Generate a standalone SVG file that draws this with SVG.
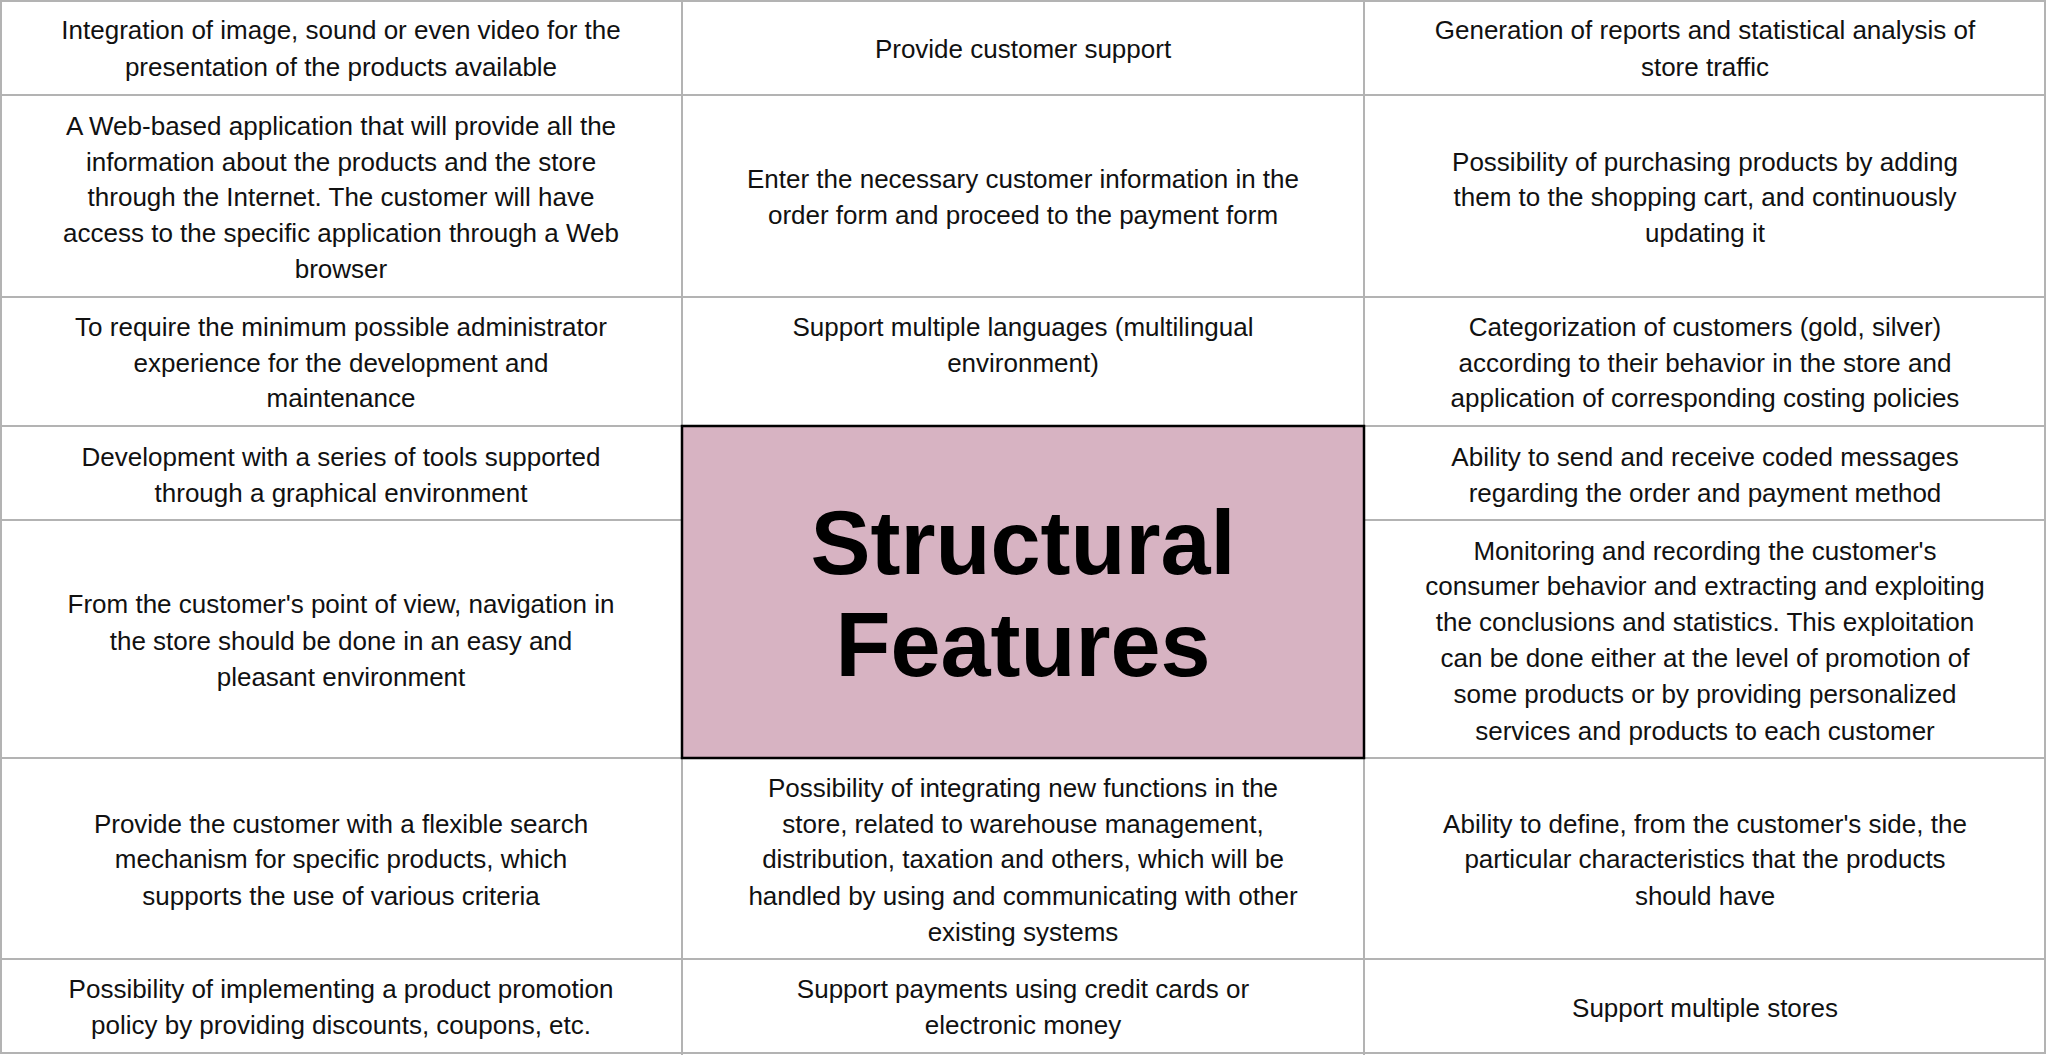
<svg xmlns="http://www.w3.org/2000/svg" width="2048" height="1055" viewBox="0 0 2048 1055">
<style>
.g{stroke:#b3b3b3;stroke-width:2;fill:none}
text{font-family:"Liberation Sans",Arial,sans-serif;font-size:26px;fill:#111;text-anchor:middle;dominant-baseline:central}
.t{font-size:90px;font-weight:bold;fill:#000}
</style>
<rect width="2048" height="1055" fill="#fff"/>
<g id="grid">
<rect class="g" x="1" y="1" width="2044" height="1052"/>
<line class="g" x1="682" y1="0" x2="682" y2="1055"/>
<line class="g" x1="1364" y1="0" x2="1364" y2="1055"/>
<line class="g" x1="0" y1="95" x2="2046" y2="95"/>
<line class="g" x1="0" y1="297" x2="2046" y2="297"/>
<line class="g" x1="0" y1="426" x2="2046" y2="426"/>
<line class="g" x1="0" y1="520" x2="682" y2="520"/>
<line class="g" x1="1364" y1="520" x2="2046" y2="520"/>
<line class="g" x1="0" y1="758" x2="2046" y2="758"/>
<line class="g" x1="0" y1="959" x2="2046" y2="959"/>
</g>
<g id="center">
<rect x="682" y="426" width="682" height="332" fill="#d7b3c2" stroke="#000" stroke-width="2.5"/>
<text class="t" x="1023" y="543">Structural</text>
<text class="t" x="1023" y="645">Features</text>
</g>
<g id="c1r1"><text x="341" y="30">Integration of image, sound or even video for the</text><text x="341" y="67">presentation of the products available</text></g>
<g id="c1r2"><text x="341" y="126">A Web-based application that will provide all the</text><text x="341" y="162">information about the products and the store</text><text x="341" y="197">through the Internet. The customer will have</text><text x="341" y="233">access to the specific application through a Web</text><text x="341" y="269">browser</text></g>
<g id="c1r3"><text x="341" y="327">To require the minimum possible administrator</text><text x="341" y="363">experience for the development and</text><text x="341" y="398">maintenance</text></g>
<g id="c1r4"><text x="341" y="457">Development with a series of tools supported</text><text x="341" y="493">through a graphical environment</text></g>
<g id="c1r5"><text x="341" y="604">From the customer's point of view, navigation in</text><text x="341" y="641">the store should be done in an easy and</text><text x="341" y="677">pleasant environment</text></g>
<g id="c1r6"><text x="341" y="824">Provide the customer with a flexible search</text><text x="341" y="859">mechanism for specific products, which</text><text x="341" y="896">supports the use of various criteria</text></g>
<g id="c1r7"><text x="341" y="989">Possibility of implementing a product promotion</text><text x="341" y="1025">policy by providing discounts, coupons, etc.</text></g>
<g id="c2r1"><text x="1023" y="49">Provide customer support</text></g>
<g id="c2r2"><text x="1023" y="179">Enter the necessary customer information in the</text><text x="1023" y="215">order form and proceed to the payment form</text></g>
<g id="c2r3"><text x="1023" y="327">Support multiple languages  (multilingual</text><text x="1023" y="363">environment)</text></g>
<g id="c2r6"><text x="1023" y="788">Possibility of integrating new functions in the</text><text x="1023" y="824">store, related to warehouse management,</text><text x="1023" y="859">distribution, taxation and others, which will be</text><text x="1023" y="896">handled by using and communicating with other</text><text x="1023" y="932">existing systems</text></g>
<g id="c2r7"><text x="1023" y="989">Support payments using credit cards or</text><text x="1023" y="1025">electronic money</text></g>
<g id="c3r1"><text x="1705" y="30">Generation of reports and statistical analysis of</text><text x="1705" y="67">store traffic</text></g>
<g id="c3r2"><text x="1705" y="162">Possibility of purchasing products by adding</text><text x="1705" y="197">them to the shopping cart, and continuously</text><text x="1705" y="233">updating it</text></g>
<g id="c3r3"><text x="1705" y="327">Categorization of customers (gold, silver)</text><text x="1705" y="363">according to their behavior in the store and</text><text x="1705" y="398">application of corresponding costing policies</text></g>
<g id="c3r4"><text x="1705" y="457">Ability to send and receive coded messages</text><text x="1705" y="493">regarding the order and payment method</text></g>
<g id="c3r5"><text x="1705" y="551">Monitoring and recording the customer's</text><text x="1705" y="586">consumer behavior and extracting and exploiting</text><text x="1705" y="622">the conclusions and statistics. This exploitation</text><text x="1705" y="658">can be done either at the level of promotion of</text><text x="1705" y="694">some products or by providing personalized</text><text x="1705" y="731">services and products to each customer</text></g>
<g id="c3r6"><text x="1705" y="824">Ability to define, from the customer's side, the</text><text x="1705" y="859">particular characteristics that the products</text><text x="1705" y="896">should have</text></g>
<g id="c3r7"><text x="1705" y="1008">Support multiple stores</text></g>
</svg>
